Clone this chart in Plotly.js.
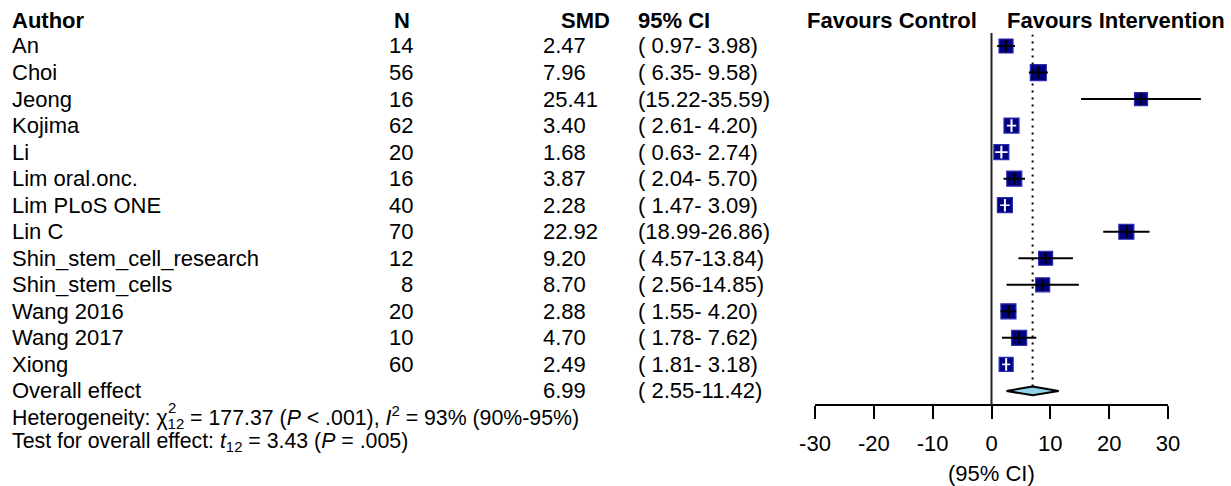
<!DOCTYPE html>
<html>
<head>
<meta charset="utf-8">
<script src="https://cdn.plot.ly/plotly-3.0.1.min.js"></script>
<style>
  html, body { margin: 0; padding: 0; background: #ffffff; }
  #chart { width: 1231px; height: 486px; }
</style>
</head>
<body>
<div id="chart"></div>
<script>
// Study-level results
const authors = ["An", "Choi", "Jeong", "Kojima", "Li", "Lim oral.onc.", "Lim PLoS ONE", "Lin C",
                 "Shin_stem_cell_research", "Shin_stem_cells", "Wang 2016", "Wang 2017", "Xiong"];
const sampleN = [14, 56, 16, 62, 20, 16, 40, 70, 12, 8, 20, 10, 60];
const smd     = [2.47, 7.96, 25.41, 3.40, 1.68, 3.87, 2.28, 22.92, 9.20, 8.70, 2.88, 4.70, 2.49];
const ciLow   = [0.97, 6.35, 15.22, 2.61, 0.63, 2.04, 1.47, 18.99, 4.57, 2.56, 1.55, 1.78, 1.81];
const ciHigh  = [3.98, 9.58, 35.59, 4.20, 2.74, 5.70, 3.09, 26.86, 13.84, 14.85, 4.20, 7.62, 3.18];

// Pooled result
const overallLabel = "Overall effect";
const overallSmd = 6.99;
const overallLow = 2.55;
const overallHigh = 11.42;

const xTicks = [-30, -20, -10, 0, 10, 20, 30];
const axisSpan = [-30, 30];

// ---- styling / layout constants ----
const W = 1231, H = 486;
const FONT = "Liberation Sans, Arial, Helvetica, sans-serif";
const FS = 22;
const FS_FOOT = 21.3;
const NAVY = "#000080";
const axisLeftPx = 815, axisRightPx = 1168;   // pixel span of the drawn -30..30 axis
const plotTopPx = 33, plotBottomPx = 405;
const boxPx = [14, 16, 13, 15, 15, 15, 15, 15, 14, 14, 15, 15, 14];
const rowTop = 0.51, rowBottom = 14.53;

const px = v => v / W;             // horizontal pixel -> paper
const py = v => 1 - v / H;         // vertical pixel -> paper
const pxPerUnit = (axisRightPx - axisLeftPx) / (axisSpan[1] - axisSpan[0]);
// the plotting area runs a little past +30 so long intervals are not cut off
const xRange = [axisSpan[0], 40];
const plotRightPx = axisLeftPx + (xRange[1] - xRange[0]) * pxPerUnit;

const rows = authors.map((_, i) => i + 1);
const overallRow = authors.length + 1;

const fmtCI = (lo, hi) => {
  const pad = v => v.toFixed(2).padStart(5, "\u00a0");
  return "(" + pad(lo) + "-" + pad(hi) + ")";
};

// CI whiskers: black where they reach past the box, white where they sit inside it
const blackX = [], blackY = [], whiteX = [], whiteY = [];
const tickColors = [];
rows.forEach((r, i) => {
  const inside = (ciHigh[i] - ciLow[i]) * pxPerUnit < boxPx[i];
  const tx = inside ? whiteX : blackX, ty = inside ? whiteY : blackY;
  tx.push(ciLow[i], ciHigh[i], null);
  ty.push(r, r, null);
  tickColors.push(inside ? "#ffffff" : "#000000");
});

const traces = [
  {
    type: "scatter", mode: "markers", x: smd, y: rows, hoverinfo: "skip",
    marker: { symbol: "square", size: boxPx, color: NAVY, opacity: 1,
              line: { color: "#2a2ab4", width: 1.2 } }
  },
  {
    type: "scatter", mode: "lines", x: blackX, y: blackY, hoverinfo: "skip",
    line: { color: "#000000", width: 2 }
  },
  {
    type: "scatter", mode: "lines", x: whiteX, y: whiteY, hoverinfo: "skip",
    line: { color: "#ffffff", width: 1.6 }
  },
  {
    type: "scatter", mode: "markers", x: smd, y: rows, hoverinfo: "skip",
    marker: { symbol: "line-ns-open", size: 9, opacity: 1, color: tickColors,
              line: { width: 2, color: tickColors } }
  },
  {
    // pooled-effect diamond
    type: "scatter", mode: "lines", hoverinfo: "skip", fill: "toself",
    x: [overallLow, overallSmd, overallHigh, overallSmd, overallLow],
    y: [overallRow, overallRow - 0.165, overallRow, overallRow + 0.165, overallRow],
    fillcolor: "#8fd2ea", line: { color: "#000000", width: 2 }
  }
];

const ann = [];
const txt = (text, x, y, opts) => Object.assign({
  text, x, y, xref: "paper", yref: "y", showarrow: false,
  xanchor: "left", yanchor: "middle",
  font: { family: FONT, size: FS, color: "#000000" }
}, opts || {});
const footFont = { family: FONT, size: FS_FOOT, color: "#000000" };

// header row
const headY = py(20);
ann.push(txt("<b>Author</b>", px(10), headY, { yref: "paper" }));
ann.push(txt("<b>N</b>", px(402), headY, { yref: "paper", xanchor: "center" }));
ann.push(txt("<b>SMD</b>", px(585), headY, { yref: "paper", xanchor: "center" }));
ann.push(txt("<b>95% CI</b>", px(636), headY, { yref: "paper" }));
ann.push(txt("<b>Favours Control</b>", px(805), headY, { yref: "paper" }));
ann.push(txt("<b>Favours Intervention</b>", px(1005), headY, { yref: "paper" }));

// study rows
rows.forEach((r, i) => {
  ann.push(txt(authors[i], px(10), r));
  ann.push(txt(String(sampleN[i]), px(415), r, { xanchor: "right" }));
  ann.push(txt(smd[i].toFixed(2), px(541), r));
  ann.push(txt(fmtCI(ciLow[i], ciHigh[i]), px(636), r));
});

// pooled row
ann.push(txt(overallLabel, px(10), overallRow));
ann.push(txt(overallSmd.toFixed(2), px(541), overallRow));
ann.push(txt(fmtCI(overallLow, overallHigh), px(636), overallRow));

// statistics footer
ann.push(txt("Heterogeneity: χ<sub>12</sub> = 177.37 (<i>P</i> &lt; .001), <i>I</i><sup>2</sup> = 93% (90%-95%)",
             px(10), py(417), { yref: "paper", font: footFont }));
ann.push(txt("2", px(166), py(408), { yref: "paper", font: { family: FONT, size: FS_FOOT * 0.7, color: "#000000" } }));
ann.push(txt("Test for overall effect: <i>t</i><sub>12</sub> = 3.43 (<i>P</i> = .005)",
             px(10), py(442), { yref: "paper", font: footFont }));

// axis caption
ann.push(txt("(95% CI)", 0, py(473), { xref: "x", yref: "paper", xanchor: "center" }));

const layout = {
  width: W, height: H,
  margin: { l: 0, r: 0, t: 0, b: 0, pad: 0 },
  paper_bgcolor: "#ffffff", plot_bgcolor: "rgba(0,0,0,0)",
  showlegend: false,
  xaxis: {
    domain: [px(axisLeftPx), px(plotRightPx)],
    range: xRange, tickvals: xTicks, ticktext: xTicks.map(String),
    ticks: "outside", ticklen: 13, tickwidth: 2, tickcolor: "#000000",
    showline: false, showgrid: false, zeroline: false, fixedrange: true,
    ticklabelstandoff: 6,
    tickfont: { family: FONT, size: FS, color: "#000000" }
  },
  yaxis: {
    domain: [py(plotBottomPx), py(plotTopPx)],
    range: [rowBottom, rowTop], visible: false, fixedrange: true
  },
  shapes: [
    // x axis baseline, spanning only the labelled -30..30 interval
    { type: "line", xref: "x", yref: "y domain", x0: axisSpan[0], x1: axisSpan[1], y0: 0, y1: 0,
      line: { color: "#000000", width: 2 } },
    // line of no effect
    { type: "line", xref: "x", yref: "y domain", x0: 0, x1: 0, y0: 0, y1: 1,
      line: { color: "#222222", width: 2 } },
    // pooled estimate
    { type: "line", xref: "x", yref: "y domain", x0: overallSmd, x1: overallSmd, y0: 0.05, y1: 0.995,
      line: { color: "#000000", width: 2, dash: "2px,5px" } }
  ],
  annotations: ann
};

Plotly.newPlot("chart", traces, layout, { displayModeBar: false, staticPlot: true });
</script>
</body>
</html>
